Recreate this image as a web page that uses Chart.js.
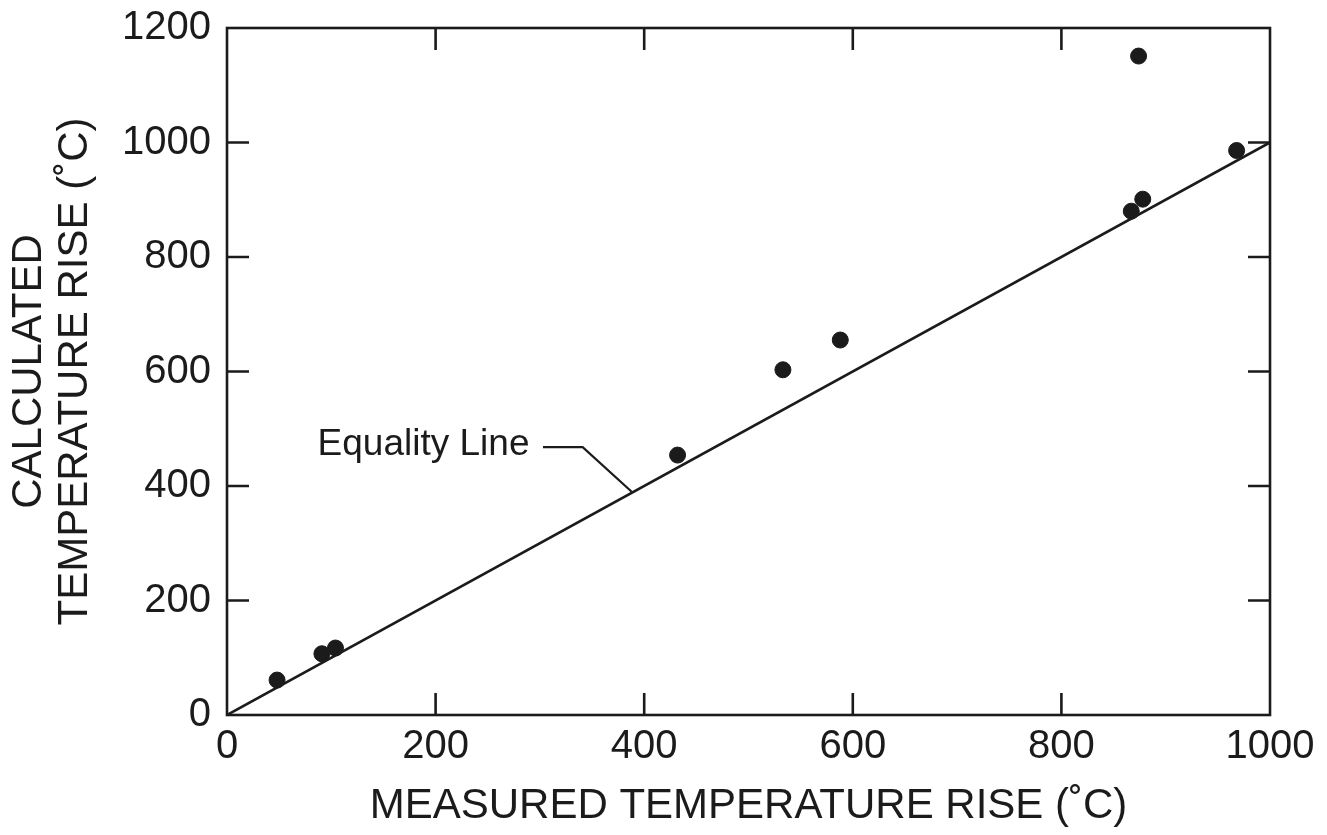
<!DOCTYPE html>
<html>
<head>
<meta charset="utf-8">
<script src="https://cdn.jsdelivr.net/npm/chart.js@4.4.1/dist/chart.umd.min.js"></script>
<style>
  html, body { margin: 0; padding: 0; background: #fff; }
  #wrap { width: 1327px; height: 835px; }
</style>
</head>
<body>
<div id="wrap"><canvas id="chart" width="1327" height="835"></canvas></div>
<script>
'use strict';

// measured vs calculated temperature rise (°C)
const measured   = [48, 91, 104, 432, 533, 588, 867, 878, 968, 874];
const calculated = [61, 107, 117, 454, 603, 655, 880, 901, 986, 1151];

// equality line y = x, and the leader from the label to it
const equalityLine = [{ x: 0, y: 0 }, { x: 1000, y: 1000 }];
const leaderLine   = [{ x: 303, y: 468 }, { x: 341, y: 468 }, { x: 388, y: 390 }];
const labelAnchor  = { x: 290, y: 472, text: 'Equality Line' };

const xTitle = 'MEASURED TEMPERATURE RISE (˚C)';
const yTitle = ['CALCULATED', 'TEMPERATURE RISE (˚C)'];

const INK = '#1b1b1b';
const FONT = '"Liberation Sans", Arial, Helvetica, sans-serif';

// box round the plot and inward ticks on all four sides
const framePlugin = {
  id: 'frame',
  afterDraw(chart) {
    const { ctx, chartArea: a, scales } = chart;
    const len = 22;
    ctx.save();
    ctx.strokeStyle = INK;
    ctx.lineWidth = 2.6;
    ctx.strokeRect(a.left, a.top, a.right - a.left, a.bottom - a.top);
    ctx.beginPath();
    scales.x.ticks.forEach(t => {
      if (t.value <= scales.x.min || t.value >= scales.x.max) return;
      const px = scales.x.getPixelForValue(t.value);
      ctx.moveTo(px, a.bottom); ctx.lineTo(px, a.bottom - len);
      ctx.moveTo(px, a.top);    ctx.lineTo(px, a.top + len);
    });
    scales.y.ticks.forEach(t => {
      if (t.value <= scales.y.min || t.value >= scales.y.max) return;
      const py = scales.y.getPixelForValue(t.value);
      ctx.moveTo(a.left, py);  ctx.lineTo(a.left + len, py);
      ctx.moveTo(a.right, py); ctx.lineTo(a.right - len, py);
    });
    ctx.stroke();

    // annotation text
    ctx.fillStyle = INK;
    ctx.font = '37px ' + FONT;
    ctx.textAlign = 'right';
    ctx.textBaseline = 'middle';
    ctx.fillText(labelAnchor.text,
      scales.x.getPixelForValue(labelAnchor.x),
      scales.y.getPixelForValue(labelAnchor.y));
    ctx.restore();
  }
};

new Chart(document.getElementById('chart'), {
  type: 'scatter',
  data: {
    datasets: [
      {
        label: 'Data',
        data: measured.map((m, i) => ({ x: m, y: calculated[i] })),
        backgroundColor: INK,
        borderColor: INK,
        pointRadius: 8,
        pointHoverRadius: 8,
        order: 0,
      },
      {
        label: 'Equality Line',
        type: 'line',
        data: equalityLine,
        borderColor: INK,
        borderWidth: 2.6,
        pointRadius: 0,
        fill: false,
        order: 1,
      },
      {
        label: 'Leader',
        type: 'line',
        data: leaderLine,
        borderColor: INK,
        borderWidth: 2.2,
        pointRadius: 0,
        fill: false,
        order: 1,
      },
    ],
  },
  options: {
    responsive: false,
    animation: false,
    events: [],
    layout: { padding: { top: 28, right: 57, left: 0, bottom: 0 } },
    plugins: { legend: { display: false }, tooltip: { enabled: false } },
    scales: {
      x: {
        type: 'linear',
        min: 0, max: 1000,
        grid: { display: false, drawTicks: false },
        border: { display: false },
        ticks: {
          stepSize: 100,
          padding: 8,
          color: INK,
          font: { family: FONT, size: 40 },
          callback: v => (v % 200 === 0 ? String(v) : null),
          maxRotation: 0,
          autoSkip: false,
        },
        title: {
          display: true,
          text: xTitle,
          color: INK,
          font: { family: FONT, size: 42, lineHeight: 1.1 },
          padding: { top: 0, bottom: 5 },
        },
        afterFit(scale) {
          scale.height = 120;
          scale.paddingLeft = 0;
          scale.paddingRight = 0;
        },
      },
      y: {
        type: 'linear',
        min: 0, max: 1200,
        grid: { display: false, drawTicks: false },
        border: { display: false },
        ticks: {
          stepSize: 100,
          padding: 16,
          color: INK,
          font: { family: FONT, size: 40 },
          callback: v => (v % 200 === 0 ? String(v) : null),
          autoSkip: false,
        },
        title: {
          display: true,
          text: yTitle,
          color: INK,
          font: { family: FONT, size: 42, lineHeight: 1.1 },
          padding: { top: 6, bottom: 0 },
        },
        afterFit(scale) {
          scale.width = 227;
          scale.paddingTop = 0;
          scale.paddingBottom = 0;
        },
      },
    },
  },
  plugins: [framePlugin],
});
</script>
</body>
</html>
